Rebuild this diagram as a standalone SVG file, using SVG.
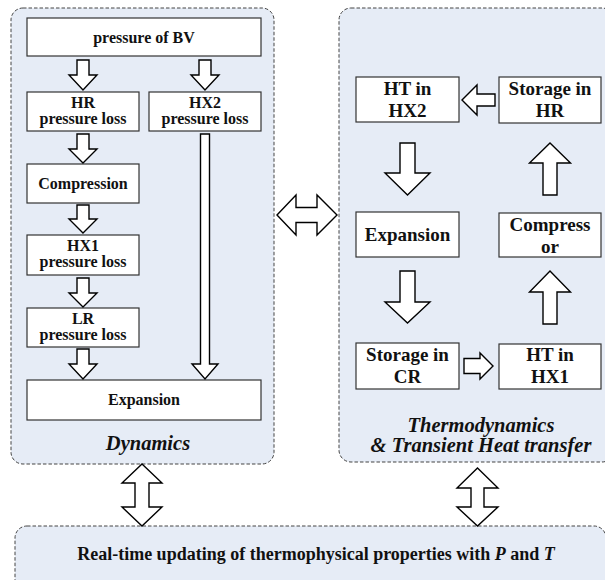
<svg xmlns="http://www.w3.org/2000/svg" width="605" height="580" viewBox="0 0 605 580" font-family="'Liberation Serif', 'DejaVu Serif', serif">
<style>
.panel{fill:#e6ecf6;stroke:#444;stroke-width:1;stroke-dasharray:3.5,2}
.box{fill:#fff;stroke:#333;stroke-width:1.2}
.arr{fill:#fff;stroke:#000;stroke-width:1.4;stroke-linejoin:miter}
text{font-weight:bold;fill:#111;text-anchor:middle}
.t16{font-size:16px}
.t18{font-size:18px}
.t19{font-size:19px}
.ti{font-size:20.5px;font-style:italic}
</style>
<rect width="605" height="580" fill="#fff"/>
<g id="panel-dynamics"><rect class="panel" x="11" y="8" width="263" height="456" rx="12"/><text class="ti" x="148" y="450">Dynamics</text></g>
<g id="panel-thermo"><rect class="panel" x="339" y="8" width="275" height="454" rx="12"/><text class="ti" x="481" y="432">Thermodynamics</text><text class="ti" x="481" y="452">&amp; Transient Heat transfer</text></g>
<g id="panel-props"><rect class="panel" x="15" y="526" width="591" height="70" rx="12"/><text class="t18" x="316" y="560">Real-time updating of thermophysical properties with <tspan font-style="italic">P</tspan> and <tspan font-style="italic">T</tspan></text></g>

<g id="bv"><rect class="box" x="27" y="18" width="234" height="38"/><text class="t16" x="144" y="43">pressure of BV</text></g>
<g id="hr-loss"><rect class="box" x="27" y="92" width="112" height="39"/><text class="t16" x="83" y="108">HR</text><text class="t16" x="83" y="124">pressure loss</text></g>
<g id="hx2-loss"><rect class="box" x="149" y="92" width="112" height="39"/><text class="t16" x="205" y="108">HX2</text><text class="t16" x="205" y="124">pressure loss</text></g>
<g id="compression"><rect class="box" x="27" y="164" width="112" height="39"/><text class="t16" x="83" y="189">Compression</text></g>
<g id="hx1-loss"><rect class="box" x="27" y="235" width="112" height="40"/><text class="t16" x="83" y="251">HX1</text><text class="t16" x="83" y="267">pressure loss</text></g>
<g id="lr-loss"><rect class="box" x="27" y="308" width="112" height="39"/><text class="t16" x="83" y="324">LR</text><text class="t16" x="83" y="340">pressure loss</text></g>
<g id="expansion-dyn"><rect class="box" x="27" y="380" width="234" height="40"/><text class="t16" x="144" y="405">Expansion</text></g>

<g id="ht-hx2"><rect class="box" x="356" y="77" width="103" height="45"/><text class="t19" x="407.5" y="95">HT in</text><text class="t19" x="407.5" y="117">HX2</text></g>
<g id="storage-hr"><rect class="box" x="499" y="77" width="102" height="46"/><text class="t19" x="550" y="95">Storage in</text><text class="t19" x="550" y="117">HR</text></g>
<g id="expansion-th"><rect class="box" x="356" y="212" width="103" height="45"/><text class="t19" x="407.5" y="241">Expansion</text></g>
<g id="compressor"><rect class="box" x="499" y="213" width="102" height="44"/><text class="t19" x="550" y="231">Compress</text><text class="t19" x="550" y="253">or</text></g>
<g id="storage-cr"><rect class="box" x="356" y="343" width="103" height="46"/><text class="t19" x="407.5" y="361">Storage in</text><text class="t19" x="407.5" y="383">CR</text></g>
<g id="ht-hx1"><rect class="box" x="499" y="344" width="102" height="45"/><text class="t19" x="550" y="361">HT in</text><text class="t19" x="550" y="383">HX1</text></g>

<g id="connectors">
<path class="arr" d="M77,60 H89 V75 H97 L83,90 L69,75 H77 Z"/>
<path class="arr" d="M199,60 H211 V75 H219 L205,90 L191,75 H199 Z"/>
<path class="arr" d="M77,134 H89 V149 H97 L83,163 L69,149 H77 Z"/>
<path class="arr" d="M77,205 H89 V219 H97 L83,233 L69,219 H77 Z"/>
<path class="arr" d="M77,278 H89 V293 H97 L83,307 L69,293 H77 Z"/>
<path class="arr" d="M77,349 H89 V364 H97 L83,379 L69,364 H77 Z"/>
<path class="arr" d="M200.5,134 H209.5 V364 H218 L205,379 L192,364 H200.5 Z"/>
<path class="arr" d="M400,143 H415 V173 H430 L407.5,195 L385,173 H400 Z"/>
<path class="arr" d="M400,271 H415 V302 H430 L407.5,323 L385,302 H400 Z"/>
<path class="arr" d="M543,195 H557 V163 H570.5 L550,143 L529.5,163 H543 Z"/>
<path class="arr" d="M543,324 H557 V292 H570.5 L550,271 L529.5,292 H543 Z"/>
<path class="arr" d="M495,94 V106 H477 V115 L462,100 L477,85 V94 Z"/>
<path class="arr" d="M464,358.5 H480 V353 L493,366 L480,379 V373.5 H464 Z"/>
<path class="arr" d="M277,215 L296,195 V207.5 H317 V195 L337,215 L317,235 V222.5 H296 V235 Z"/>
<path class="arr" d="M142,464 L162,483 H149 V507 H162 L142,526 L122,507 H135 V483 H122 Z"/>
<path class="arr" d="M477.5,468 L498,488 H484 V507 H498 L477.5,526 L457,507 H471 V488 H457 Z"/>
</g>
</svg>
